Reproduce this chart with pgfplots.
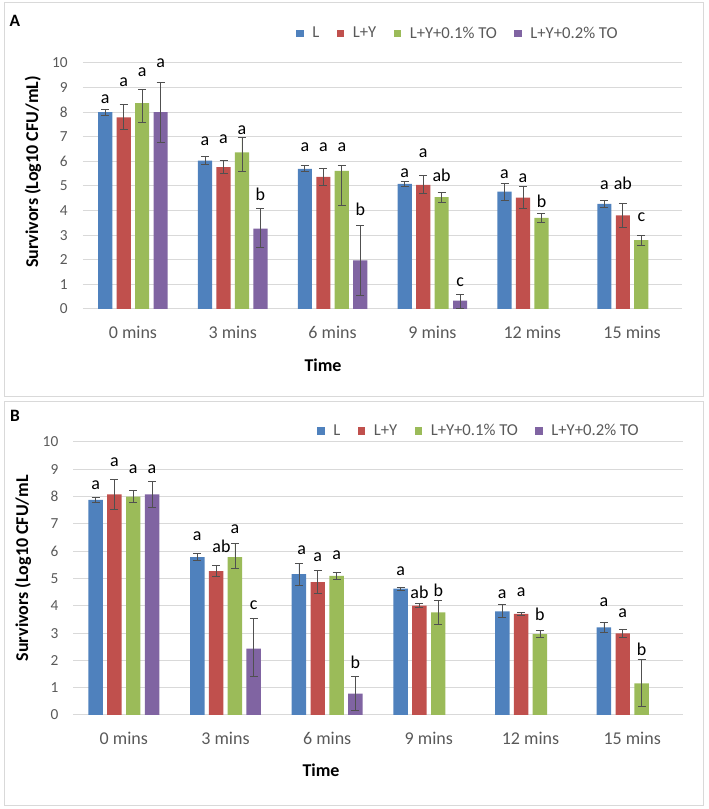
\documentclass[border=0pt]{standalone}
\usepackage{fontspec}
\setmainfont{Carlito}
\usepackage{pgfplots}
\usepackage{pgfplotstable}
\pgfplotsset{compat=1.18}
\definecolor{blueE}{HTML}{4F81BD}
\definecolor{redE}{HTML}{C0504D}
\definecolor{greenE}{HTML}{9BBB59}
\definecolor{purpleE}{HTML}{8064A2}
\definecolor{tickc}{HTML}{595959}
\definecolor{gridc}{HTML}{D9D9D9}
\definecolor{errc}{HTML}{505050}
\definecolor{framec}{HTML}{D9D9D9}

% Panel A data: x y ep em
\pgfplotstableread{
x y ep em
0 8.00 0.12 0.12
1 6.03 0.17 0.17
2 5.70 0.12 0.12
3 5.09 0.10 0.10
4 4.77 0.35 0.35
5 4.27 0.15 0.15
}\tAL
\pgfplotstableread{
x y ep em
0 7.79 0.54 0.50
1 5.77 0.25 0.25
2 5.37 0.33 0.33
3 5.05 0.37 0.36
4 4.53 0.44 0.44
5 3.81 0.48 0.48
}\tALY
\pgfplotstableread{
x y ep em
0 8.37 0.57 0.77
1 6.37 0.61 0.77
2 5.61 0.24 1.38
3 4.55 0.20 0.20
4 3.70 0.20 0.20
5 2.80 0.20 0.20
}\tALYa
\pgfplotstableread{
x y ep em
0 8.00 1.20 1.22
1 3.27 0.82 0.77
2 1.98 1.41 1.42
3 0.34 0.24 0.30
}\tALYb
\pgfplotstableread{
x y t
-0.2775 8.32 a
-0.0925 9.03 a
0.0925 9.44 a
0.2775 9.81 a
0.7225 6.62 a
0.9075 6.72 a
1.0925 7.09 a
1.2775 4.38 b
1.7225 6.38 a
1.9075 6.38 a
2.0925 6.38 a
2.2775 3.80 b
2.7225 5.34 a
2.9075 6.14 a
3.0925 5.15 ab
3.2775 0.90 c
3.7225 5.27 a
3.9075 5.14 a
4.0925 4.10 b
4.7225 4.83 a
4.9075 4.86 ab
5.0925 3.54 c
}\tAlab

% Panel B data
\pgfplotstableread{
x y ep em
0 7.88 0.10 0.10
1 5.78 0.13 0.13
2 5.16 0.40 0.40
3 4.63 0.06 0.06
4 3.80 0.24 0.24
5 3.21 0.17 0.17
}\tBL
\pgfplotstableread{
x y ep em
0 8.08 0.56 0.55
1 5.27 0.20 0.20
2 4.87 0.41 0.41
3 4.01 0.06 0.06
4 3.70 0.06 0.06
5 2.99 0.13 0.13
}\tBLY
\pgfplotstableread{
x y ep em
0 8.00 0.23 0.23
1 5.78 0.49 0.40
2 5.10 0.14 0.14
3 3.76 0.43 0.43
4 2.96 0.13 0.13
5 1.16 0.87 0.83
}\tBLYa
\pgfplotstableread{
x y ep em
0 8.08 0.48 0.48
1 2.43 1.10 1.03
2 0.78 0.62 0.62
}\tBLYb
\pgfplotstableread{
x y t
-0.2775 8.23 a
-0.0925 9.10 a
0.0925 8.82 a
0.2775 8.82 a
0.7225 6.38 a
0.96 5.95 ab
1.0925 6.65 a
1.2775 3.85 c
1.75 5.87 a
1.9075 5.59 a
2.0925 5.69 a
2.2775 1.69 b
2.7225 5.11 a
2.9075 4.24 ab
3.0925 4.33 b
3.7225 4.25 a
3.9075 4.31 a
4.0925 3.45 b
4.7225 3.97 a
4.9075 3.55 a
5.0925 2.18 b
}\tBlab

\pgfplotsset{
  excelbar/.style={
    scale only axis,
    xmin=-0.5, xmax=5.5, ymin=0, ymax=10,
    xtick={0,...,5},
    xticklabels={0 mins,3 mins,6 mins,9 mins,12 mins,15 mins},
    ytick={0,...,10},
    /pgf/number format/assume math mode=true,
    ymajorgrids,
    grid style={draw=gridc, line width=0.75pt},
    axis x line*=bottom, axis y line*=left,
    x axis line style={draw=gridc, line width=0.75pt, -},
    y axis line style={draw=none},
    major tick length=0pt,
    tick style={draw=none},
    xticklabel style={font=\fontsize{13.5}{15}\selectfont, text=tickc},
    yticklabel style={font=\fontsize{11.5}{13}\selectfont, text=tickc},
    xlabel={Time},
    xlabel style={font=\fontsize{13.5}{16}\selectfont\bfseries, anchor=center},
    ylabel style={font=\fontsize{13.5}{16}\selectfont\bfseries, anchor=center},
    legend image code/.code={\fill[##1] (0pt,-2.8pt) rectangle (5.6pt,2.8pt);},
    legend style={draw=none, fill=none, inner sep=0pt, text=tickc,
      font=\fontsize{12.5}{14}\selectfont, legend columns=4,
      /tikz/every odd column/.append style={column sep=4.5pt},
      /tikz/every even column/.append style={column sep=11pt}},
    legend cell align=left,
  },
  barA/.style={ybar, bar width=0.142, bar shift=0pt, draw=none,
    error bars/y dir=both, error bars/y explicit,
    error bars/error bar style={draw=errc, line width=0.6pt},
    error bars/error mark options={draw=errc, line width=0.6pt, mark size=3pt, rotate=90}},
  labs/.style={draw=none, mark=none, forget plot,
    nodes near coords, point meta=explicit symbolic,
    every node near coord/.append style={inner sep=0pt, text=black,
      font=\fontsize{13.5}{15}\selectfont}},
}

\begin{document}
\begin{tikzpicture}
\useasboundingbox (0pt,0pt) rectangle (531pt,606.75pt);
\draw[framec, line width=0.75pt] (3pt,309pt) rectangle (527.25pt,604.5pt);
\draw[framec, line width=0.75pt] (3pt,2.25pt) rectangle (527.25pt,305.25pt);
\node[font=\fontsize{13}{15}\selectfont\bfseries] at (11.25pt,591pt) {A};
\node[font=\fontsize{13}{15}\selectfont\bfseries] at (11.25pt,294.75pt) {B};

% Panel A
\begin{axis}[excelbar,
  width=449.25pt, height=184.5pt,
  at={(62.25pt,375pt)}, anchor=south west,
  xticklabel style={yshift=-9.5pt},
  yticklabel style={xshift=-8pt},
  ylabel={Survivors (Log10 CFU/mL)},
  ylabel style={at={(axis description cs:-0.0835,0.557)}},
  xlabel style={at={(axis description cs:0.4007,-0.2276)}},
  legend style={at={(0.3556,1.12)}, anchor=west},
]
\addplot[fill=blueE, barA] table[x expr=\thisrow{x}-0.2775,y=y,y error plus=ep,y error minus=em] {\tAL};
\addplot[fill=redE, barA] table[x expr=\thisrow{x}-0.0925,y=y,y error plus=ep,y error minus=em] {\tALY};
\addplot[fill=greenE, barA] table[x expr=\thisrow{x}+0.0925,y=y,y error plus=ep,y error minus=em] {\tALYa};
\addplot[fill=purpleE, barA] table[x expr=\thisrow{x}+0.2775,y=y,y error plus=ep,y error minus=em] {\tALYb};
\legend{L, L+Y, L+Y+0.1\% TO, L+Y+0.2\% TO}
\addplot[labs] table[x=x,y=y,meta=t] {\tAlab};
\end{axis}

% Panel B
\begin{axis}[excelbar,
  width=457.5pt, height=204.75pt,
  at={(54.75pt,70.5pt)}, anchor=south west,
  xticklabel style={yshift=-9pt},
  yticklabel style={xshift=-7.5pt},
  ylabel={Survivors (Log10 CFU/mL},
  ylabel style={at={(axis description cs:-0.082,0.538)}},
  xlabel style={at={(axis description cs:0.4066,-0.2015)}},
  legend style={at={(0.4,1.04)}, anchor=west},
]
\addplot[fill=blueE, barA] table[x expr=\thisrow{x}-0.2775,y=y,y error plus=ep,y error minus=em] {\tBL};
\addplot[fill=redE, barA] table[x expr=\thisrow{x}-0.0925,y=y,y error plus=ep,y error minus=em] {\tBLY};
\addplot[fill=greenE, barA] table[x expr=\thisrow{x}+0.0925,y=y,y error plus=ep,y error minus=em] {\tBLYa};
\addplot[fill=purpleE, barA] table[x expr=\thisrow{x}+0.2775,y=y,y error plus=ep,y error minus=em] {\tBLYb};
\legend{L, L+Y, L+Y+0.1\% TO, L+Y+0.2\% TO}
\addplot[labs] table[x=x,y=y,meta=t] {\tBlab};
\end{axis}
\end{tikzpicture}
\end{document}
